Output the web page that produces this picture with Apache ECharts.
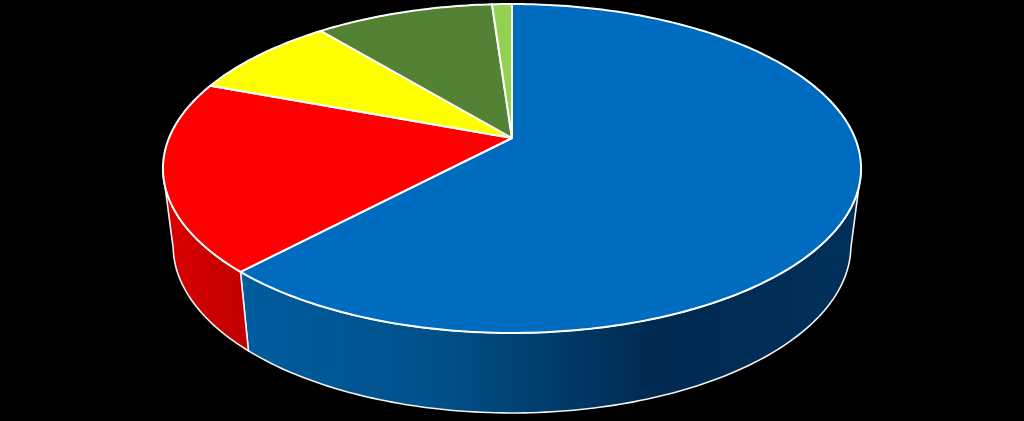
<!DOCTYPE html>
<html><head><meta charset="utf-8">
<style>html,body{margin:0;padding:0;background:#000}#c{width:1024px;height:421px}</style>
<script src="https://cdn.jsdelivr.net/npm/echarts@6/dist/echarts.min.js"></script>
</head><body><div id="c"></div>
<script>
var sliceValues = [62, 18.7, 8.3, 9.9, 1.1];
var sliceIds = ['Slice 1', 'Slice 2', 'Slice 3', 'Slice 4', 'Slice 5'];
var topColors = ['#006cbf', '#ff0000', '#ffff00', '#548235', '#92d050'];
var wallStops = [['#005c9f', '#005088', '#002a50', '#00305a'], ['#dc0000', '#c00000'], null, null, null];

var total = sliceValues.reduce(function (a, b) { return a + b; }, 0);
var cumulative = [];
sliceValues.reduce(function (s, v, i) { cumulative[i] = s; return s + v; }, 0);

// Perspective disc projection
var view = { cx: 512, q: 0.1854, topA: 343, topB: 158.8, topY: 138, botA: 333, botB: 161.5, botY: 214.7, wallFrom: 101.5, wallTo: 258.5 };
function project(deg, A, B, Y) {
  var t = deg * Math.PI / 180, u = Math.sin(t), v = Math.cos(t), w = 1 + view.q * v;
  return [view.cx + A * u / w, Y - B * v / w];
}
function arc(from, to, A, B, Y) {
  var pts = [], n = Math.max(2, Math.ceil(Math.abs(to - from)));
  for (var i = 0; i <= n; i++) pts.push(project(from + (to - from) * i / n, A, B, Y));
  return pts;
}
function renderItem(params, api) {
  var i = params.dataIndex;
  var a0 = cumulative[i] / total * 360, a1 = a0 + api.value(1) / total * 360;
  var children = [];
  var w0 = Math.max(a0, view.wallFrom), w1 = Math.min(a1, view.wallTo);
  if (w1 > w0 && wallStops[i]) {
    var top = arc(w0, w1, view.topA, view.topB, view.topY);
    var bot = arc(w1, w0, view.botA, view.botB, view.botY);
    var pts = top.concat(bot);
    var stops = wallStops[i], offs = stops.length === 4 ? [0, 0.33, 0.66, 1] : [0, 1];
    children.push({
      type: 'polygon', shape: { points: pts },
      style: {
        fill: new echarts.graphic.LinearGradient(0, 0, 1, 0, stops.map(function (c, k) { return { offset: offs[k], color: c }; })),
        stroke: '#f2f2f2', lineWidth: 1.6, lineJoin: 'round'
      }
    });
  }
  children.push({
    type: 'polygon',
    shape: { points: [[view.cx, view.topY]].concat(arc(a0, a1, view.topA, view.topB, view.topY)) },
    style: { fill: topColors[i], stroke: '#ffffff', lineWidth: 2, lineJoin: 'round' }
  });
  return { type: 'group', children: children };
}
var chart = echarts.init(document.getElementById('c'), null, { renderer: 'canvas' });
chart.setOption({
  backgroundColor: '#000000',
  animation: false,
  tooltip: { show: false },
  series: [{
    type: 'custom',
    coordinateSystem: 'none',
    renderItem: renderItem,
    data: sliceValues.map(function (v, i) { return [sliceIds[i], v]; })
  }]
});
</script></body></html>
